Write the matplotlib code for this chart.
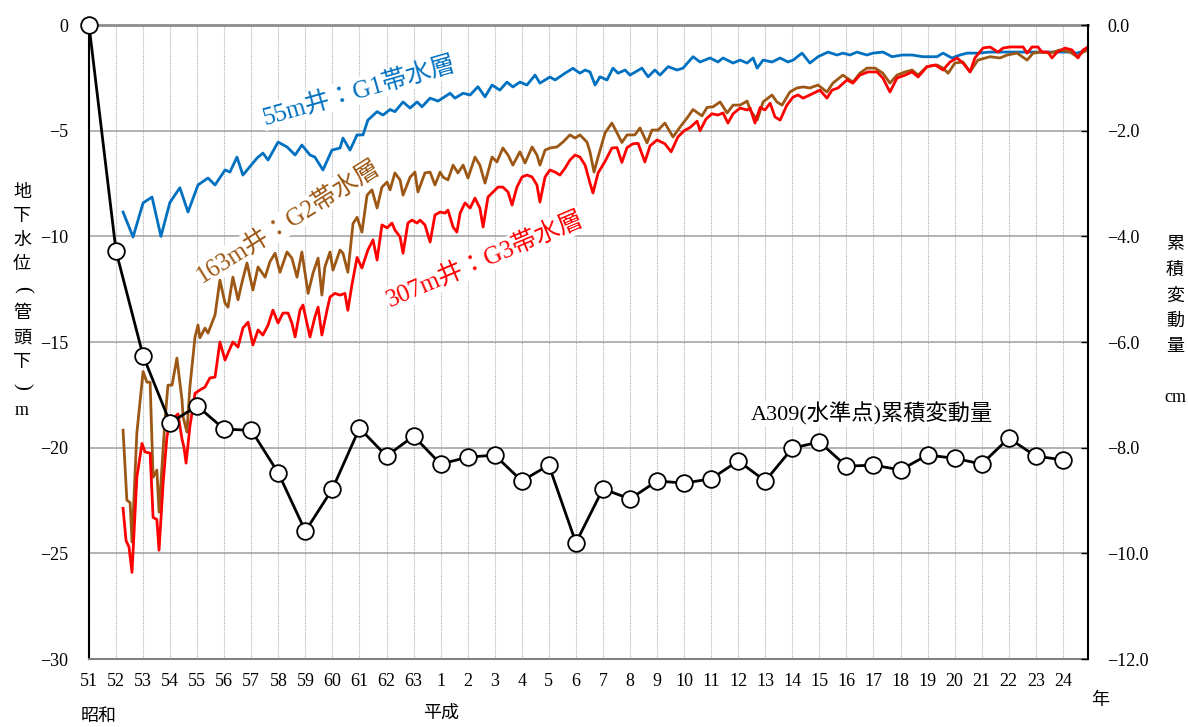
import matplotlib
matplotlib.use("Agg")
import matplotlib.pyplot as plt

plt.rcParams['font.family'] = ['Liberation Serif', 'Noto Sans CJK JP']
plt.rcParams['axes.unicode_minus'] = True

# x positions are years counted from Showa 51 (tick "51" = 0)
year_labels = ['51', '52', '53', '54', '55', '56', '57', '58', '59', '60', '61', '62', '63',
               '1', '2', '3', '4', '5', '6', '7', '8', '9', '10', '11', '12', '13', '14',
               '15', '16', '17', '18', '19', '20', '21', '22', '23', '24']

# A309 benchmark, cumulative change (cm), one value per year
bm_t = list(range(37))
bm_cm = [0.0, -4.28, -6.26, -7.53, -7.21, -7.65, -7.67, -8.48, -9.58, -8.78, -7.63, -8.16,
         -7.78, -8.31, -8.18, -8.14, -8.63, -8.33, -9.80, -8.78, -8.97, -8.63, -8.67, -8.59,
         -8.25, -8.63, -8.01, -7.89, -8.35, -8.33, -8.42, -8.14, -8.20, -8.31, -7.82, -8.16,
         -8.23]

# 55m well : G1 aquifer (m below well head)
g1_t = [1.26, 1.63, 2.00, 2.33, 2.66, 2.99, 3.36, 3.66, 4.03, 4.40, 4.66, 5.03, 5.21, 5.47,
        5.69, 6.21, 6.43, 6.62, 6.99, 7.32, 7.62, 7.87, 8.17, 8.35, 8.65, 8.98, 9.28, 9.39,
        9.65, 9.91, 10.13, 10.31, 10.65, 10.87, 11.13, 11.31, 11.61, 11.87, 12.13, 12.31,
        12.61, 12.90, 13.35, 13.53, 13.83, 14.09, 14.38, 14.64, 14.90, 15.19, 15.45, 15.67,
        15.93, 16.19, 16.49, 16.67, 17.04, 17.23, 17.60, 17.89, 18.15, 18.34, 18.52, 18.71,
        18.89, 19.15, 19.37, 19.56, 19.82, 20.00, 20.44, 20.67, 20.92, 21.11, 21.41, 21.74,
        21.96, 22.33, 22.59, 22.96, 23.25, 23.44, 23.81, 24.07, 24.33, 24.55, 24.70, 24.92,
        25.25, 25.55, 25.84, 26.03, 26.36, 26.65, 26.95, 27.32, 27.65, 27.87, 28.13, 28.39,
        28.76, 28.98, 29.35, 29.69, 30.06, 30.43, 30.83, 31.35, 31.57, 31.90, 32.20, 32.46,
        32.86, 33.31, 33.79, 34.31, 34.79, 35.27, 35.79, 36.27, 36.52, 36.93]
g1_m = [-8.85, -10.03, -8.42, -8.14, -10.0, -8.4, -7.7, -8.85, -7.57, -7.24, -7.57, -6.86,
        -6.96, -6.25, -7.1, -6.3, -6.06, -6.39, -5.54, -5.77, -6.15, -5.68, -6.15, -6.25,
        -6.86, -5.92, -5.82, -5.35, -5.92, -5.2, -5.2, -4.5, -4.1, -4.26, -4.0, -4.1, -3.64,
        -3.93, -3.64, -3.87, -3.46, -3.6, -3.23, -3.46, -3.23, -3.31, -2.92, -3.4, -2.84,
        -3.08, -2.7, -2.93, -2.7, -2.84, -2.37, -2.75, -2.46, -2.6, -2.28, -2.05, -2.28,
        -2.13, -2.22, -2.84, -2.45, -2.6, -2.04, -2.28, -2.13, -2.37, -2.04, -2.45, -2.13,
        -2.37, -1.97, -2.13, -2.04, -1.5, -1.75, -1.56, -1.75, -1.56, -1.8, -1.66, -1.8,
        -1.56, -2.04, -1.66, -1.75, -1.56, -1.75, -1.66, -1.33, -1.8, -1.5, -1.28, -1.42,
        -1.33, -1.42, -1.28, -1.42, -1.33, -1.28, -1.5, -1.42, -1.42, -1.5, -1.5, -1.33,
        -1.56, -1.42, -1.33, -1.33, -1.28, -1.28, -1.28, -1.28, -1.28, -1.28, -1.28, -1.33,
        -1.18]

# 163m well : G2 aquifer
g2_t = [1.26, 1.40, 1.52, 1.59, 1.77, 2.00, 2.14, 2.26, 2.37, 2.51, 2.59, 2.81, 2.92, 3.07,
        3.25, 3.44, 3.48, 3.62, 3.73, 3.92, 4.03, 4.10, 4.29, 4.40, 4.66, 4.84, 5.03, 5.14,
        5.32, 5.51, 5.66, 5.84, 6.06, 6.25, 6.51, 6.69, 6.88, 7.06, 7.32, 7.50, 7.69, 7.87,
        8.10, 8.28, 8.47, 8.61, 8.72, 8.91, 9.02, 9.28, 9.39, 9.57, 9.76, 9.91, 10.09, 10.28,
        10.46, 10.65, 10.83, 11.02, 11.13, 11.31, 11.50, 11.61, 11.87, 12.05, 12.16, 12.42,
        12.61, 12.79, 12.98, 13.09, 13.27, 13.46, 13.64, 13.83, 14.01, 14.27, 14.45, 14.64,
        14.90, 15.08, 15.30, 15.49, 15.67, 15.93, 16.12, 16.38, 16.56, 16.67, 16.86, 17.04,
        17.30, 17.52, 17.78, 17.97, 18.15, 18.41, 18.52, 18.67, 18.82, 19.08, 19.33, 19.52,
        19.70, 19.89, 20.18, 20.37, 20.63, 20.81, 21.04, 21.29, 21.59, 21.85, 22.11, 22.33,
        22.66, 22.85, 23.07, 23.33, 23.59, 23.81, 24.07, 24.33, 24.44, 24.70, 24.92, 25.25,
        25.43, 25.62, 25.91, 26.17, 26.40, 26.65, 26.95, 27.28, 27.50, 27.87, 28.24, 28.50,
        28.76, 29.06, 29.35, 29.61, 29.87, 30.17, 30.43, 30.65, 30.98, 31.35, 31.57, 31.76,
        32.01, 32.31, 32.57, 32.86, 33.31, 33.68, 33.94, 34.31, 34.68, 34.90, 35.23, 35.53,
        35.90, 36.27, 36.52, 36.75, 36.93]
g2_m = [-19.17, -22.48, -22.6, -24.46, -19.3, -16.4, -16.9, -16.9, -21.4, -21.06, -23.05,
        -18.7, -17.04, -17.04, -15.76, -17.75, -18.55, -19.26, -17.13, -14.76, -14.2, -14.8,
        -14.34, -14.58, -13.72, -12.07, -13.16, -13.35, -11.93, -13.0, -12.16, -11.26, -12.54,
        -11.45, -11.93, -11.2, -10.8, -11.7, -10.74, -11.03, -11.93, -10.74, -12.7, -11.75,
        -11.03, -12.78, -11.45, -10.74, -11.6, -10.65, -10.8, -11.7, -9.4, -9.1, -9.8, -8.05,
        -7.8, -8.66, -7.67, -7.43, -7.8, -7.0, -7.33, -8.05, -7.2, -6.96, -7.9, -7.0, -6.96,
        -7.57, -6.96, -7.2, -7.33, -6.63, -7.0, -6.63, -7.24, -6.25, -6.63, -7.48, -6.25,
        -6.48, -5.82, -6.15, -6.63, -6.0, -6.53, -5.77, -6.15, -6.63, -5.92, -5.82, -5.77,
        -5.54, -5.2, -5.35, -5.2, -5.54, -6.0, -6.96, -6.25, -5.1, -4.64, -5.1, -5.56, -5.2,
        -5.2, -4.87, -5.58, -4.97, -4.97, -4.64, -5.3, -4.83, -4.4, -4.0, -4.3, -3.9, -3.87,
        -3.64, -4.16, -3.79, -3.79, -3.6, -4.02, -4.5, -3.64, -3.31, -3.64, -3.79, -3.17,
        -2.98, -2.93, -2.98, -2.84, -3.17, -2.75, -2.37, -2.7, -2.28, -2.04, -2.04, -2.28,
        -2.75, -2.37, -2.22, -2.13, -2.37, -1.97, -1.89, -2.04, -2.28, -1.8, -1.75, -2.22,
        -1.66, -1.5, -1.56, -1.42, -1.33, -1.66, -1.33, -1.28, -1.33, -1.18, -1.28, -1.5,
        -1.28, -1.18]

# 307m well : G3 aquifer
g3_t = [1.26, 1.37, 1.48, 1.59, 1.77, 1.96, 2.07, 2.26, 2.37, 2.51, 2.59, 2.74, 2.88, 2.99,
        3.18, 3.29, 3.44, 3.51, 3.59, 3.73, 3.92, 4.10, 4.29, 4.47, 4.66, 4.84, 5.03, 5.14,
        5.32, 5.51, 5.69, 5.88, 6.06, 6.25, 6.43, 6.62, 6.80, 6.99, 7.17, 7.36, 7.50, 7.62,
        7.80, 7.91, 8.17, 8.35, 8.47, 8.61, 8.80, 8.91, 9.09, 9.28, 9.46, 9.57, 9.72, 9.91,
        10.09, 10.31, 10.50, 10.65, 10.83, 11.02, 11.20, 11.31, 11.50, 11.61, 11.79, 11.94,
        12.13, 12.24, 12.42, 12.61, 12.79, 12.98, 13.16, 13.27, 13.46, 13.60, 13.72, 13.90,
        14.09, 14.27, 14.45, 14.57, 14.75, 14.94, 15.12, 15.30, 15.49, 15.64, 15.82, 16.01,
        16.19, 16.38, 16.56, 16.67, 16.86, 17.04, 17.23, 17.41, 17.60, 17.78, 17.97, 18.15,
        18.34, 18.52, 18.63, 18.82, 19.08, 19.33, 19.52, 19.70, 19.89, 20.11, 20.30, 20.55,
        20.74, 21.00, 21.29, 21.52, 21.77, 22.00, 22.22, 22.48, 22.59, 22.81, 23.03, 23.25,
        23.44, 23.62, 23.81, 24.07, 24.33, 24.44, 24.62, 24.81, 24.99, 25.18, 25.36, 25.55,
        25.80, 26.03, 26.21, 26.40, 26.65, 27.02, 27.28, 27.47, 27.69, 28.02, 28.24, 28.50,
        28.80, 29.13, 29.35, 29.61, 29.87, 30.17, 30.43, 30.65, 30.98, 31.28, 31.46, 31.57,
        31.83, 32.09, 32.31, 32.57, 32.75, 33.05, 33.31, 33.60, 33.79, 34.05, 34.53, 34.68,
        34.86, 35.08, 35.23, 35.45, 35.60, 35.79, 36.08, 36.34, 36.56, 36.75, 36.93]
g3_m = [-22.87, -24.4, -24.7, -25.9, -21.4, -19.8, -20.2, -20.26, -23.3, -23.4, -24.85,
        -21.7, -19.5, -18.8, -18.55, -18.4, -19.6, -19.97, -20.73, -19.0, -17.43, -17.27,
        -17.13, -16.7, -16.66, -15.0, -15.85, -15.52, -15.0, -15.24, -14.34, -14.06, -15.14,
        -14.43, -14.67, -14.2, -13.49, -14.1, -13.63, -13.63, -14.1, -14.76, -13.49, -13.25,
        -14.76, -13.82, -13.35, -14.67, -13.49, -12.87, -12.7, -12.78, -12.7, -13.5, -12.3,
        -11.0, -11.5, -10.65, -10.17, -11.12, -9.46, -9.6, -9.37, -9.7, -10.03, -10.8, -9.37,
        -9.23, -9.37, -9.23, -9.46, -10.27, -8.99, -8.85, -8.9, -8.76, -9.56, -9.8, -8.9,
        -8.42, -8.66, -8.19, -8.66, -9.56, -8.14, -7.9, -7.67, -7.67, -7.9, -8.52, -7.67,
        -7.19, -7.1, -7.19, -7.57, -8.38, -7.19, -6.86, -6.96, -7.1, -6.77, -6.39, -6.15,
        -6.25, -6.63, -7.48, -7.95, -7.0, -6.45, -5.82, -5.8, -6.5, -5.8, -5.62, -5.6, -6.48,
        -5.72, -5.44, -5.62, -6.0, -5.3, -5.0, -4.85, -4.55, -5.0, -4.45, -4.2, -4.26, -4.16,
        -4.64, -4.2, -3.93, -4.02, -3.93, -4.64, -3.9, -4.02, -3.7, -4.35, -4.5, -3.79, -3.41,
        -3.31, -3.46, -3.31, -3.08, -3.46, -3.08, -2.98, -2.6, -2.75, -2.37, -2.22, -2.22,
        -2.51, -3.17, -2.51, -2.37, -2.22, -2.46, -1.97, -1.89, -2.04, -2.13, -1.75, -1.56,
        -1.8, -2.22, -1.56, -1.09, -1.04, -1.28, -1.09, -1.04, -1.04, -1.33, -1.04, -1.04,
        -1.28, -1.28, -1.56, -1.28, -1.09, -1.18, -1.56, -1.18, -1.04]

fig = plt.figure(figsize=(11.88, 7.27), dpi=100)
ax = fig.add_axes([0.0749, 0.0935, 0.8409, 0.8721])

ax.plot(g1_t, g1_m, color='#0070C0', lw=2, zorder=3)
ax.plot(g2_t, g2_m, color='#9C5714', lw=2, zorder=3)
ax.plot(g3_t, g3_m, color='#FF0000', lw=2, zorder=3)

ax.set_xlim(0, 36.93)
ax.set_ylim(-30, 0)
ax.set_xticks(range(len(year_labels)))
ax.set_xticklabels(year_labels, fontsize=13)
ax.set_yticks([0, -5, -10, -15, -20, -25, -30])
ax.set_yticklabels(['0', '\u22125', '\u221210', '\u221215', '\u221220', '\u221225', '\u221230'],
                   fontsize=13)
ax.tick_params(axis='x', length=0, pad=10)
ax.tick_params(axis='y', length=0, pad=15)
ax.set_axisbelow(True)
ax.grid(axis='y', color='#a6a6a6', lw=1.2, ls='-')
ax.grid(axis='x', color='#b0b0b0', lw=0.8, ls=(0, (1, 1)))
ax.spines['top'].set_color('#8c8c8c')
ax.spines['top'].set_linewidth(2)
ax.spines['bottom'].set_color('#808080')
ax.spines['bottom'].set_linewidth(1.5)
ax.spines['left'].set_color('black')
ax.spines['left'].set_linewidth(1.5)
ax.spines['right'].set_visible(False)

ax2 = ax.twinx()
ax2.plot(bm_t, bm_cm, color='black', lw=2, marker='o', markersize=12,
         markerfacecolor='white', markeredgecolor='black', markeredgewidth=1.3,
         clip_on=False, zorder=5)
ax2.set_ylim(-12, 0)
ax2.set_yticks([0, -2, -4, -6, -8, -10, -12])
ax2.set_yticklabels(['0.0', '\u22122.0', '\u22124.0', '\u22126.0', '\u22128.0', '\u221210.0',
                     '\u221212.0'], fontsize=13)
ax2.tick_params(axis='y', direction='in', length=5, width=1, pad=14)
ax2.spines['right'].set_color('black')
ax2.spines['right'].set_linewidth(1.5)
for s in ['top', 'bottom', 'left']:
    ax2.spines[s].set_visible(False)

# series labels
box = dict(facecolor='white', edgecolor='none', pad=1)
ax.text(10.0, -3.1, '55m井：G1帯水層', color='#0070C0', fontsize=18, rotation=16,
        ha='center', va='center', bbox=box, zorder=2)
ax.text(7.35, -9.3, '163m井：G2帯水層', color='#9C5714', fontsize=18, rotation=32,
        ha='center', va='center', bbox=box, zorder=2)
ax.text(14.65, -11.1, '307m井：G3帯水層', color='#FF0000', fontsize=18, rotation=23,
        ha='center', va='center', bbox=box, zorder=2)
ax.text(28.95, -18.4, 'A309(水準点)累積変動量', color='black', fontsize=16,
        ha='center', va='center', bbox=box, zorder=2)

# axis titles written vertically (brackets turned to vertical form)
left_chars = ['地', '下', '水', '位', '(', '管', '頭', '下', ')', 'm']
for i, ch in enumerate(left_chars):
    rot = -90 if ch in '()' else 0
    fig.text(22 / 1188, 1 - (192 + 24.3 * i) / 727, ch, fontsize=15 if rot else 13,
             ha='center', va='center', rotation=rot, rotation_mode='anchor')
right_chars = ['累', '積', '変', '動', '量']
for i, ch in enumerate(right_chars):
    fig.text(1175 / 1188, 1 - (245 + 25.5 * i) / 727, ch, fontsize=13, ha='center', va='center')
fig.text(1175 / 1188, 1 - 397 / 727, 'cm', fontsize=13, ha='center', va='center')

fig.text(1100 / 1188, 1 - 700 / 727, '年', fontsize=13, ha='center', va='center')
fig.text(99 / 1188, 1 - 716 / 727, '昭和', fontsize=13, ha='center', va='center')
fig.text(441 / 1188, 1 - 713 / 727, '平成', fontsize=13, ha='center', va='center')

fig.savefig('out.png', dpi=100)
